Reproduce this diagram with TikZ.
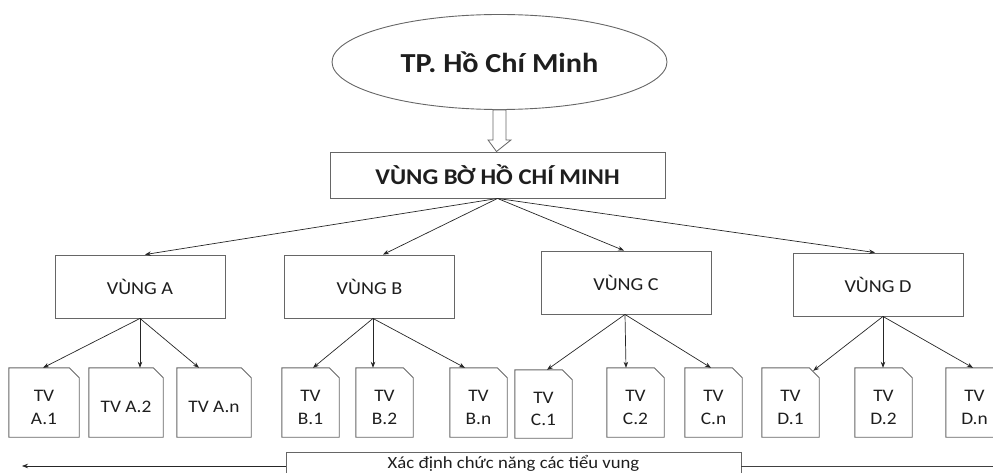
\documentclass[tikz,border=0pt]{standalone}
\usepackage{fontspec}
\setmainfont{Carlito}[FakeStretch=1.1]
\usetikzlibrary{shapes.geometric,arrows.meta,calc}

\definecolor{edgegray}{HTML}{666666}
\definecolor{inkgray}{HTML}{1E1E1E}

% tall strut that pushes the sub-zone labels a little below centre
\newcommand{\tvstrut}{\rule{0pt}{21pt}}

\tikzset{
  boxline/.style={draw=edgegray, line width=0.9pt},
  region/.style={boxline, fill=white, minimum width=170pt, minimum height=63pt,
    inner sep=0pt, font=\fontsize{18.3}{21}\selectfont, text=inkgray},
  subzone/.style={draw=none, minimum height=69pt, minimum width=57pt,
    inner sep=0pt, align=center, font=\fontsize{17.6}{22.5}\selectfont, text=inkgray},
  link/.style={draw=black!85, line width=0.7pt, -{Stealth[length=6pt,width=4.5pt]}},
}

\begin{document}
\begin{tikzpicture}[x=1pt, y=-1pt]
\useasboundingbox (0,0) rectangle (993,473);

% city and the whole shore region
\node[ellipse, boxline, minimum width=335pt, minimum height=95pt, inner sep=0pt,
      font=\fontsize{27.5}{30}\selectfont\bfseries, text=inkgray] (city) at (499.5,62) {TP. Hồ Chí Minh};
\node[boxline, minimum width=335pt, minimum height=46pt, inner sep=0pt,
      font=\fontsize{22.5}{25}\selectfont\bfseries, text=inkgray] (shore) at (497.5,175) {VÙNG BỜ HỒ CHÍ MINH};

% hollow block arrow from the city to the shore region
\draw[boxline, line width=0.8pt, fill=white]
  ($(city.south)+(-6.5pt,0)$) -- ($(city.south)+(6.5pt,0)$) -- ($(city.south)+(6.5pt,-30pt)$)
  -- ($(city.south)+(11.5pt,-30pt)$) -- ($(shore.north)+(-1pt,0)$)
  -- ($(city.south)+(-11.5pt,-30pt)$) -- ($(city.south)+(-6.5pt,-30pt)$) -- cycle;

% the four regions
\node[region] (va) at (140,286.5) {VÙNG A};
\node[region] (vb) at (369.5,286.5) {VÙNG B};
\node[region] (vc) at (626,282.5) {VÙNG C};
\node[region] (vd) at (878,284.5) {VÙNG D};

\draw[link] (shore.south) -- ([xshift=5pt]va.north);
\draw[link] (shore.south) -- ([xshift=13.5pt]vb.north);
\draw[link] (shore.south) -- ([xshift=-2pt]vc.north);
\draw[link] (shore.south) -- ([xshift=-3pt]vd.north);

% sub-zones
\node[subzone, minimum width=70pt] (a1) at (44,402.5) {\tvstrut TV\\A.1};
\node[subzone, minimum width=74pt] (a2) at (126,402.5) {\tvstrut TV A.2};
\node[subzone, minimum width=74pt] (an) at (214,402.5) {\tvstrut TV A.n};
\node[subzone] (b1) at (310.5,402.5) {\tvstrut TV\\B.1};
\node[subzone] (b2) at (384.5,402.5) {\tvstrut TV\\B.2};
\node[subzone] (bn) at (478.5,402.5) {\tvstrut TV\\B.n};
\node[subzone, minimum height=68pt] (c1) at (543.5,404) {\tvstrut TV\\C.1};
\node[subzone] (c2) at (635.5,402.5) {\tvstrut TV\\C.2};
\node[subzone] (cn) at (713.5,402.5) {\tvstrut TV\\C.n};
\node[subzone] (d1) at (790.5,402.5) {\tvstrut TV\\D.1};
\node[subzone] (d2) at (883.5,402.5) {\tvstrut TV\\D.2};
\node[subzone] (dn) at (974.5,402.5) {\tvstrut TV\\D.n};

% page outline with a cut top-right corner for every sub-zone
\foreach \n in {a1,a2,an,b1,b2,bn,c1,c2,cn,d1,d2,dn}{
  \draw[boxline] (\n.north west) -- ([xshift=-10pt]\n.north east)
    -- ([yshift=-10pt]\n.north east) -- (\n.south east) -- (\n.south west) -- cycle;
}

\draw[link] (va.south) -- ([xshift=-1pt]a1.north);
\draw[link] (va.south) -- ([xshift=14pt]a2.north);
\draw[link] (va.south) -- ([xshift=-15pt]an.north);

\draw[link] ([xshift=3.5pt]vb.south) -- ([xshift=2.5pt]b1.north);
\draw[link] ([xshift=3.5pt]vb.south) -- ([xshift=-11.5pt]b2.north);
\draw[link] ([xshift=3.5pt]vb.south) -- ([xshift=-13.5pt]bn.north);

\draw[link] ([xshift=-1pt]vc.south) -- ([xshift=3.5pt]c1.north);
\draw[link] ([xshift=-1pt]vc.south) -- ([xshift=-9.5pt]c2.north);
\draw[link] ([xshift=-1pt]vc.south) -- ([xshift=-2.5pt]cn.north);

\draw[link] ([xshift=5pt]vd.south) -- ([xshift=-6pt,yshift=-3pt]d1.north east);
\draw[link] ([xshift=5pt]vd.south) -- ([xshift=-0.5pt]d2.north);
\draw[link] ([xshift=5pt]vd.south) -- ([xshift=-1.5pt]dn.north);

% bottom band: sub-zone function statement (runs past the lower edge)
\node[boxline, minimum width=455pt, minimum height=28pt, inner sep=0pt] (func) at (513.5,466) {};
\node[font=\fontsize{17}{19}\selectfont, text=inkgray, inner sep=0pt, anchor=base]
  (functext) at (513.5,468) {Xác định chức năng các tiểu vung};
\coordinate (leftend) at (22,466);
\coordinate (rightend) at (993,466);
\draw[link] (func.west) -- (leftend);
\draw[boxline, draw=black!75, line width=0.7pt] (func.east) -- (rightend);
\end{tikzpicture}
\end{document}
